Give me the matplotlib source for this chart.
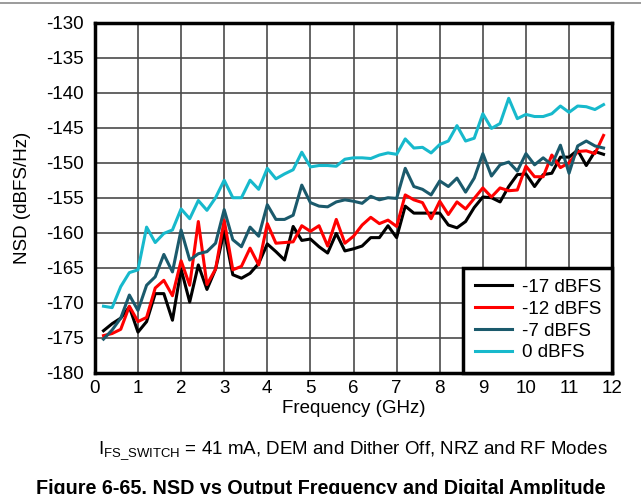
import numpy as np
import matplotlib
matplotlib.use("Agg")
import matplotlib.pyplot as plt
from matplotlib.lines import Line2D

plt.rcParams["font.family"] = ["Liberation Sans", "DejaVu Sans"]
plt.rcParams["mathtext.fontset"] = "custom"
plt.rcParams["mathtext.rm"] = "Liberation Sans"
plt.rcParams["axes.unicode_minus"] = False

# frequency sweep, 0.2 GHz steps
freq = np.arange(0.2, 11.85, 0.2)

nsd_m17 = [-174.0, -173.0, -172.2, -170.6, -174.2, -172.7, -168.7, -168.7, -172.5, -165.2,
           -169.9, -164.6, -168.1, -165.2, -159.8, -166.0, -166.5, -165.8, -164.4, -161.6,
           -162.7, -163.9, -159.1, -161.1, -160.9, -162.0, -162.9, -160.1, -162.6, -162.3,
           -161.9, -160.7, -160.7, -159.0, -160.7, -156.2, -157.2, -157.2, -157.2, -157.2,
           -158.9, -159.3, -158.4, -156.4, -154.9, -155.0, -155.6, -153.4, -151.7, -151.6,
           -153.4, -151.7, -151.5, -149.2, -149.2, -148.2, -150.4, -148.4, -148.8]
nsd_m12 = [-174.7, -174.4, -173.8, -170.5, -172.7, -172.1, -167.9, -166.8, -169.0, -164.0,
           -167.5, -158.4, -167.4, -165.2, -158.2, -165.3, -164.8, -162.2, -164.6, -158.7,
           -161.5, -161.4, -161.3, -159.0, -159.8, -159.0, -161.9, -158.1, -161.5, -160.5,
           -158.9, -157.8, -158.7, -158.2, -159.1, -154.6, -155.3, -155.7, -158.0, -155.5,
           -157.4, -155.6, -156.6, -155.1, -153.6, -154.9, -153.6, -154.0, -153.9, -150.5,
           -152.0, -152.0, -148.9, -150.7, -150.0, -148.4, -148.3, -148.7, -146.1]
nsd_m7 = [-175.2, -173.9, -172.2, -168.9, -171.1, -167.5, -166.3, -163.1, -165.6, -159.6,
          -163.9, -163.0, -162.7, -161.5, -156.7, -161.0, -162.0, -159.2, -160.5, -156.0,
          -158.1, -158.1, -157.5, -153.2, -155.7, -156.2, -156.3, -155.6, -155.3, -155.5,
          -155.8, -154.8, -155.3, -155.0, -155.1, -150.8, -153.4, -153.8, -154.6, -152.6,
          -153.4, -152.2, -154.2, -152.2, -148.7, -151.9, -150.3, -149.9, -151.2, -148.7,
          -150.3, -149.3, -150.3, -147.5, -151.5, -147.6, -146.9, -147.6, -147.9]
nsd_0 = [-170.5, -170.7, -167.7, -165.7, -165.3, -159.2, -161.4, -160.1, -159.6, -156.6,
         -158.0, -155.4, -156.8, -155.0, -152.5, -155.0, -155.0, -152.5, -153.8, -150.8,
         -152.3, -151.6, -151.0, -148.5, -150.6, -150.4, -150.4, -150.5, -149.5, -149.3,
         -149.3, -149.4, -148.9, -148.6, -148.8, -146.6, -147.9, -147.8, -148.6, -147.4,
         -146.9, -144.7, -146.9, -146.5, -143.0, -145.1, -144.4, -140.8, -143.7, -143.1,
         -143.4, -143.4, -143.0, -141.9, -142.8, -141.9, -142.0, -142.4, -141.7]

labels = ["-17 dBFS", "-12 dBFS", "-7 dBFS", "0 dBFS"]
colors = ["#000000", "#FF0000", "#1B5A6C", "#17B9CC"]

fig = plt.figure(figsize=(6.41, 4.94), dpi=100)
ax = fig.add_axes([0.148, 0.2455, 0.807, 0.7085])

for ys, lab, c in zip([nsd_m17, nsd_m12, nsd_m7, nsd_0], labels, colors):
    ax.plot(freq, ys, color=c, lw=2.2, label=lab)

ax.set_xlim(0, 12)
ax.set_ylim(-180, -130)
ax.set_xticks(range(0, 13))
ax.set_yticks(range(-180, -129, 5))
ax.grid(True, color="#4a4a4a", lw=1.2)
ax.set_axisbelow(True)
ax.tick_params(length=0, labelsize=13.5, pad=5)
ax.tick_params(axis="y", pad=8)
for s in ax.spines.values():
    s.set_linewidth(2.5)

ax.set_xlabel("Frequency (GHz)", fontsize=13.5)
ax.set_ylabel("NSD (dBFS/Hz)", fontsize=13.5)
ax.xaxis.set_label_coords(0.5, -0.077)
ax.yaxis.set_label_coords(-0.124, 0.5)

leg = ax.legend(loc="lower right", borderaxespad=0, fontsize=13.5, fancybox=False,
                framealpha=1, edgecolor="black", handlelength=2.0, labelspacing=0.25,
                borderpad=0.6, handletextpad=0.5)
leg.get_frame().set_linewidth(2.5)

fig.add_artist(Line2D([0, 1], [0.993, 0.993], color="#8a8a8a", lw=1.2))
fig.text(0.551, 0.081, r"$\mathrm{I_{FS\_SWITCH}}$ = 41 mA, DEM and Dither Off, NRZ and RF Modes",
         ha="center", va="baseline", fontsize=13.5)
fig.text(0.5, -0.001, "Figure 6-65. NSD vs Output Frequency and Digital Amplitude",
         ha="center", va="baseline", fontsize=14.2, fontweight="bold")

fig.savefig("out.png", dpi=100)
